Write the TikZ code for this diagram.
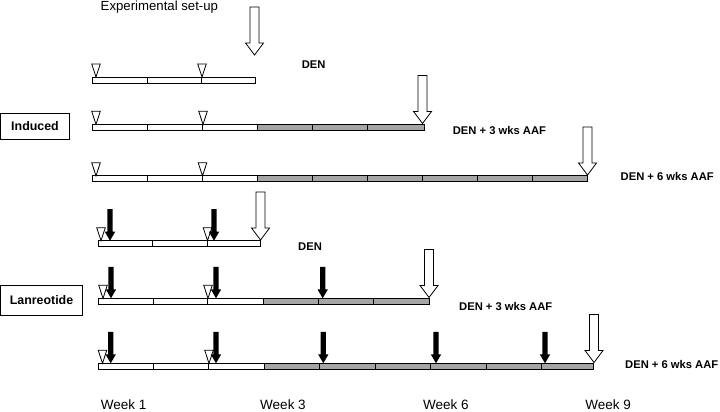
\documentclass[tikz,border=0pt]{standalone}
\usepackage{fontspec}
\setmainfont{Liberation Sans}
\definecolor{barGray}{RGB}{165,165,165}
\tikzset{
  seg/.style={draw=black,line width=0.9pt,fill=white},
  gseg/.style={seg,fill=barGray},
  lbl/.style={font=\bfseries\fontsize{11.2}{13}\selectfont,anchor=base west,inner sep=0pt},
  wk/.style={font=\fontsize{13.5}{16}\selectfont,anchor=base,inner sep=0pt},
  grp/.style={draw,line width=0.9pt,font=\bfseries\fontsize{12.4}{15}\selectfont,inner sep=0pt},
  pics/bigarrow/.style={code={
    \draw[line width=0.8pt,fill=white,line join=miter]
      (-4.5,-48) -- (4.5,-48) -- (4.5,-12) -- (9,-12) -- (0,0) -- (-9,-12) -- (-4.5,-12) -- cycle;}},
  pics/tri/.style={code={
    \draw[line width=0.8pt,fill=white] (-4.3,-13) -- (4.3,-13) -- (0,0) -- cycle;}},
  pics/shot/.style={code={
    \fill[black] (-2.6,-31.5) -- (2.6,-31.5) -- (2.6,-9) -- (5.2,-9) -- (0,0) -- (-5.2,-9) -- (-2.6,-9) -- cycle;}},
}
\begin{document}
\begin{tikzpicture}[x=1pt,y=-1pt]
\fill[white] (0,0) rectangle (720,412);
\useasboundingbox (0,0) rectangle (720,412);

\node[font=\fontsize{13.2}{16}\selectfont,anchor=base west,inner sep=0pt] (title) at (100.5,10.6) {Experimental set-up};

% group labels
\node[grp,minimum width=68.5pt,minimum height=25.7pt] (induced) at (35,126.2) {Induced};
\node[grp,minimum width=82pt,minimum height=30pt] (lanreo) at (41.5,300) {Lanreotide};

% ---- Row 1: DEN
\foreach \a/\b in {92.5/147,147/201.5,201.5/255} \draw[seg] (\a,77) rectangle (\b,83);
\pic at (96,77) {tri}; \pic at (202,77) {tri};
\pic at (254.5,55) {bigarrow};
\node[lbl] (r1) at (301.7,68.3) {DEN};

% ---- Row 2: DEN + 3 wks AAF
\foreach \a/\b in {92.5/147.7,147.7/202.7,202.7/257.7} \draw[seg] (\a,124.3) rectangle (\b,130.3);
\foreach \a/\b in {257.7/312.5,312.5/367.5,367.5/424} \draw[gseg] (\a,124.3) rectangle (\b,130.3);
\pic at (96,124.3) {tri}; \pic at (203,124.3) {tri};
\pic at (422.5,123.5) {bigarrow};
\node[lbl] (r2) at (452.7,134) {DEN + 3 wks AAF};

% ---- Row 3: DEN + 6 wks AAF
\foreach \a/\b in {92.5/147.5,147.5/202.5,202.5/257.5} \draw[seg] (\a,175.8) rectangle (\b,181.8);
\foreach \a/\b in {257.5/312.5,312.5/367.5,367.5/422.5,422.5/477.5,477.5/532.5,532.5/587.5} \draw[gseg] (\a,175.8) rectangle (\b,181.8);
\pic at (96,175.8) {tri}; \pic at (202.5,175.8) {tri};
\pic at (587.5,175) {bigarrow};
\node[lbl] (r3) at (620.5,180) {DEN + 6 wks AAF};

% ---- Row 4: Lanreotide DEN
\foreach \a/\b in {98.3/152.7,152.7/207,207/260} \draw[seg] (\a,240.7) rectangle (\b,246.7);
\pic at (101,240.7) {tri}; \pic at (207.5,240.7) {tri};
\pic at (110,240.7) {shot}; \pic at (214,240.7) {shot};
\pic at (260.5,240) {bigarrow};
\node[lbl] (r4) at (298,250) {DEN};

% ---- Row 5: Lanreotide DEN + 3 wks AAF
\foreach \a/\b in {98.3/153.3,153.3/207.7,207.7/263.3} \draw[seg] (\a,298.3) rectangle (\b,304.3);
\foreach \a/\b in {263.3/318.3,318.3/373.3,373.3/429.3} \draw[gseg] (\a,298.3) rectangle (\b,304.3);
\pic at (103,298.3) {tri}; \pic at (208,298.3) {tri};
\pic at (111,298.3) {shot}; \pic at (216,298.3) {shot}; \pic at (322.7,298.3) {shot};
\pic at (429,297.5) {bigarrow};
\node[lbl] (r5) at (459,310.5) {DEN + 3 wks AAF};

% ---- Row 6: Lanreotide DEN + 6 wks AAF
\foreach \a/\b in {98.3/153.3,153.3/208.3,208.3/264} \draw[seg] (\a,363.3) rectangle (\b,369.3);
\foreach \a/\b in {264/319.3,319.3/375,375/430.7,430.7/486,486/541.7,541.7/593.3} \draw[gseg] (\a,363.3) rectangle (\b,369.3);
\pic at (102.5,363.3) {tri}; \pic at (209,363.3) {tri};
\foreach \x in {110.7,216,323.3,436,545} \pic at (\x,363.3) {shot};
\pic at (594,362.5) {bigarrow};
\node[lbl] (r6) at (625,368) {DEN + 6 wks AAF};

% ---- week labels
\node[wk] (w1) at (123.7,409.5) {Week 1};
\node[wk] (w3) at (283,409.5) {Week 3};
\node[wk] (w6) at (445.8,409.5) {Week 6};
\node[wk] (w9) at (608.2,409.5) {Week 9};
\end{tikzpicture}
\end{document}
